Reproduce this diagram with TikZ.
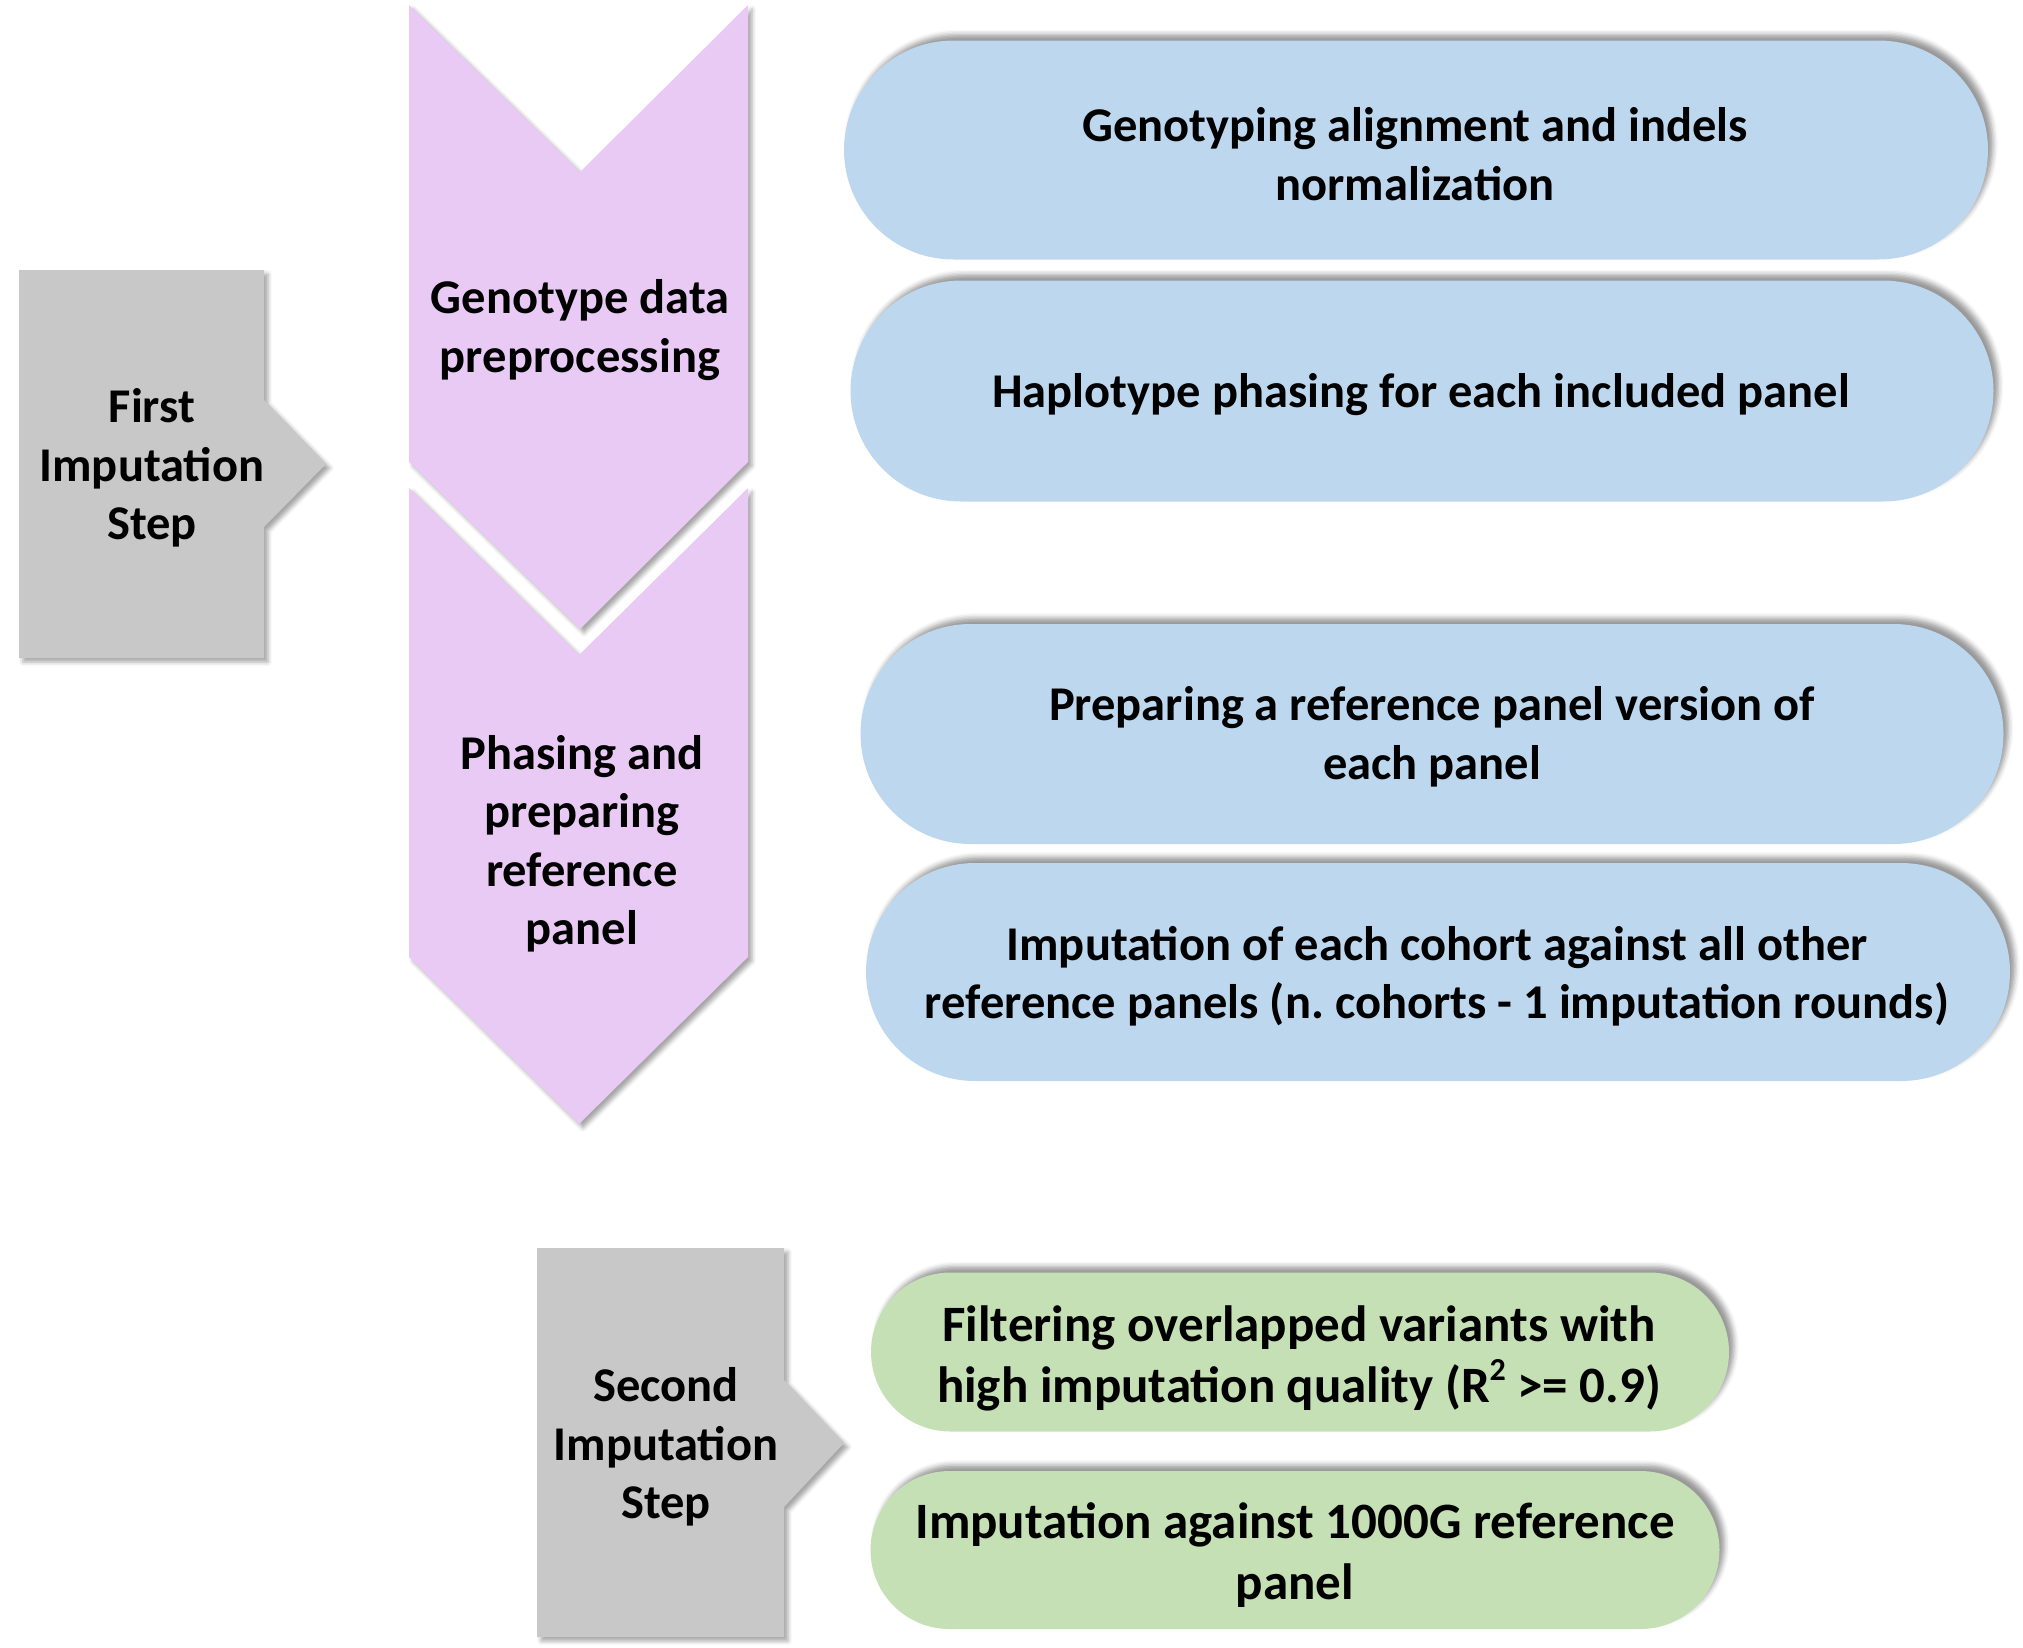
\documentclass[tikz,border=0pt]{standalone}
\usepackage{fontspec}
\setmainfont{Carlito}
\usetikzlibrary{shadows.blur}
\definecolor{grayfill}{HTML}{C8C8C8}
\definecolor{purplefill}{HTML}{E8CAF5}
\definecolor{bluefill}{HTML}{BDD7EE}
\definecolor{greenfill}{HTML}{C5E0B4}
\tikzset{
  lbl/.style={align=center, font=\bfseries\fontsize{48.5}{58.5}\selectfont, inner sep=0pt},
  shadowrd/.style={blur shadow={shadow xshift=4pt, shadow yshift=-4pt, shadow blur radius=4pt, shadow opacity=35}},
  shadowru/.style={blur shadow={shadow xshift=5pt, shadow yshift=6pt, shadow blur radius=5pt, shadow opacity=40}},
  pillshape/.style={fill=bluefill, draw=none, shadowru, inner sep=0pt},
  gpillshape/.style={pillshape, fill=greenfill},
  glbl/.style={lbl, font=\bfseries\fontsize{51}{61}\selectfont},
  graych/.style={fill=grayfill, shadowrd},
  purch/.style={fill=purplefill, shadowrd},
}
\begin{document}
\begin{tikzpicture}[x=1pt,y=-1pt]
\useasboundingbox (0,0) rectangle (2023,1647);
% gray chevron 1
\path[graych] (19,270) -- (264,270) -- (264,400) -- (326,464) -- (264,527) -- (264,658) -- (19,658) -- cycle;
\node[lbl] (g1) at (152,468) {First\\Imputation\\Step};
% purple chevrons
\path[purch] (409,5) -- (580,172) -- (748,5) -- (748,462) -- (580,629) -- (409,462) -- cycle;
\path[purch] (409,488) -- (579,655) -- (748,488) -- (748,957) -- (579,1124) -- (409,957) -- cycle;
\node[lbl] (p1) at (580,330) {Genotype data\\preprocessing};
\node[lbl] (p2) at (582,844) {Phasing and\\preparing\\reference\\panel};
% blue pills
\node[pillshape, minimum width=1144pt, minimum height=219pt, rounded corners=109.5pt] (b1) at (1416,150) {};
\node[lbl] (t1) at (1415,154) {Genotyping alignment and indels\\normalization};
\node[pillshape, minimum width=1143pt, minimum height=221pt, rounded corners=110.5pt] (b2) at (1422,391) {};
\node[lbl] (t2) at (1421,395) {Haplotype phasing for each included panel};
\node[pillshape, minimum width=1143pt, minimum height=220pt, rounded corners=110pt] (b3) at (1432,734) {};
\node[lbl] (t3) at (1432,737) {Preparing a reference panel version of\\each panel};
\node[pillshape, minimum width=1144pt, minimum height=218pt, rounded corners=109pt] (b4) at (1438,972) {};
\node[lbl] (t4) at (1437,976) {Imputation of each cohort against all other\\reference panels (n.\ cohorts - 1 imputation rounds)};
% gray chevron 2
\path[graych] (537,1248) -- (784,1248) -- (784,1380) -- (844,1443) -- (784,1507) -- (784,1637) -- (537,1637) -- cycle;
\node[lbl] (g2) at (666,1447) {Second\\Imputation\\Step};
% green pills
\node[gpillshape, minimum width=858pt, minimum height=159pt, rounded corners=79.5pt] (gr1) at (1300,1352) {};
\node[glbl] (t5) at (1299,1358) {Filtering overlapped variants with\\high imputation quality (R\raisebox{0.42em}{\fontsize{32}{32}\selectfont 2} >= 0.9)};
\node[gpillshape, minimum width=849pt, minimum height=158pt, rounded corners=79pt] (gr2) at (1295,1550) {};
\node[glbl] (t6) at (1295,1555) {Imputation against 1000G reference\\panel};
\end{tikzpicture}
\end{document}
